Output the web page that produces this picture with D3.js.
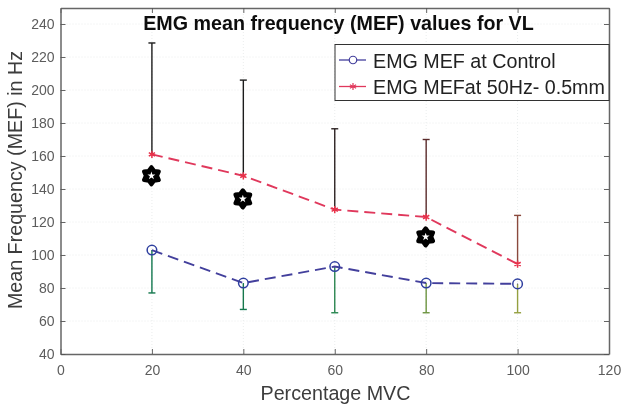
<!DOCTYPE html>
<html>
<head>
<meta charset="utf-8">
<script src="https://cdn.jsdelivr.net/npm/d3@7"></script>
<style>
html, body { margin: 0; padding: 0; background: #fff; }
svg { display: block; font-family: "Liberation Sans", Arial, sans-serif; }
</style>
</head>
<body>
<div id="graphs"></div>
<script>
const mvc = [20, 40, 60, 80, 100];
const controlMef = [103, 83, 93, 83, 82.5];
const controlLow = [77, 67, 65, 65, 65];
const stimMef = [161, 148, 127.5, 123, 94.5];
const stimHigh = [228.5, 206, 176.5, 170, 124];
const stimBarColors = ['#1c1c1c', '#1c1c1c', '#2e2222', '#5a2a2a', '#8a4a3c'];
const controlBarColors = ['#14784e', '#14784e', '#2a8650', '#6c9440', '#94a040'];
const sigMvc = [20, 40, 80];
const sigMef = [148, 134, 111];
const xTicks = [0, 20, 40, 60, 80, 100, 120];
const yTicks = [40, 60, 80, 100, 120, 140, 160, 180, 200, 220, 240];

const width = 625;
const height = 406;
const margin = {top: 8, bottom: 52, left: 60.5, right: 16};

const svg = d3.select('#graphs')
.append('svg')
.attr('width', width)
.attr('height', height);

// source is a slightly soft scan
const blur = svg.append('defs').append('filter').attr('id', 'soft');
blur.append('feGaussianBlur').attr('stdDeviation', 0.4);

const root = svg.append('g').attr('filter', 'url(#soft)');

const x = d3.scaleLinear()
.domain([0, 120])
.range([margin.left, width - margin.right]);

const y = d3.scaleLinear()
.domain([40, 249.7])
.range([height - margin.bottom, margin.top]);

// grid
root.append('g')
.selectAll('line')
.data(xTicks.slice(1, -1))
.join('line')
.attr('x1', d => x(d)).attr('x2', d => x(d))
.attr('y1', y.range()[0]).attr('y2', y.range()[1])
.attr('stroke', '#e4e8e8').attr('stroke-width', 0.8).attr('stroke-dasharray', '1 2');

root.append('g')
.selectAll('line')
.data(yTicks.slice(1))
.join('line')
.attr('x1', x.range()[0]).attr('x2', x.range()[1])
.attr('y1', d => y(d)).attr('y2', d => y(d))
.attr('stroke', '#e4e8e8').attr('stroke-width', 0.8).attr('stroke-dasharray', '1 2');

// axes, mirrored on the far sides like matlab box on
function styleAxis(g, labels){
    g.select('.domain').attr('stroke', '#666').attr('stroke-width', 1.5);
    g.selectAll('.tick line').attr('stroke', '#555').attr('stroke-width', 0.9);
    g.selectAll('.tick text').attr('fill', '#5c5c5c').attr('font-size', '14px');
    if(!labels) g.selectAll('.tick text').remove();
}

root.append('g')
.attr('transform', `translate(0, ${y(40)})`)
.call(d3.axisBottom(x).tickValues(xTicks).tickSize(-5).tickPadding(11).tickSizeOuter(0))
.attr('font-family', null)
.call(g => styleAxis(g, true));

root.append('g')
.attr('transform', `translate(0, ${y.range()[1]})`)
.call(d3.axisTop(x).tickValues(xTicks).tickSize(-5).tickSizeOuter(0))
.call(g => styleAxis(g, false));

root.append('g')
.attr('transform', `translate(${x(0)}, 0)`)
.call(d3.axisLeft(y).tickValues(yTicks).tickSize(-5).tickPadding(6).tickSizeOuter(0))
.attr('font-family', null)
.call(g => styleAxis(g, true));

root.append('g')
.attr('transform', `translate(${x(120)}, 0)`)
.call(d3.axisRight(y).tickValues(yTicks).tickSize(-5).tickSizeOuter(0))
.call(g => styleAxis(g, false));

// error bars, the cap goes on the far end (tips)
function errorBars(starts, tips, colors){
    const g = root.append('g').selectAll('g').data(mvc).join('g').attr('stroke-width', 1.4);
    g.append('line')
    .attr('x1', d => x(d)).attr('x2', d => x(d))
    .attr('y1', (d, i) => y(starts[i])).attr('y2', (d, i) => y(tips[i]))
    .attr('stroke', (d, i) => colors[i]);
    g.append('line')
    .attr('x1', d => x(d) - 3.5).attr('x2', d => x(d) + 3.5)
    .attr('y1', (d, i) => y(tips[i])).attr('y2', (d, i) => y(tips[i]))
    .attr('stroke', (d, i) => colors[i]);
}
errorBars(stimMef, stimHigh, stimBarColors);
errorBars(controlMef, controlLow, controlBarColors);

// series lines
const line = d3.line().x((d, i) => x(mvc[i])).y(d => y(d));

root.append('path').datum(controlMef).attr('d', line)
.attr('fill', 'none').attr('stroke', '#433f9c').attr('stroke-width', 1.9).attr('stroke-dasharray', '11 6');

root.append('path').datum(stimMef).attr('d', line)
.attr('fill', 'none').attr('stroke', '#e0395c').attr('stroke-width', 1.9).attr('stroke-dasharray', '11 6');

const circleMark = d3.symbol().type(d3.symbolCircle).size(72);
const starMark = d3.symbol().type(d3.symbolAsterisk).size(36);

root.append('g').selectAll('path').data(controlMef).join('path')
.attr('transform', (d, i) => `translate(${x(mvc[i])},${y(d)})`)
.attr('d', circleMark)
.attr('fill', 'none').attr('stroke', '#2f3f9f').attr('stroke-width', 1.5);

root.append('g').selectAll('path').data(stimMef).join('path')
.attr('transform', (d, i) => `translate(${x(mvc[i])},${y(d)})`)
.attr('d', starMark)
.attr('fill', 'none').attr('stroke', '#e8304a').attr('stroke-width', 1.5);

// significance stars, blobby six lobes with a small white middle
const hexagram = d3.range(12).map(i => [i * Math.PI / 6, i % 2 ? 5.6 : 8.6]);
const hexPath = d3.lineRadial().curve(d3.curveLinearClosed)(hexagram);

const sig = root.append('g').selectAll('g').data(sigMef).join('g')
.attr('transform', (d, i) => `translate(${x(sigMvc[i]) - 0.5},${y(d)})`);

sig.append('path').attr('d', hexPath)
.attr('fill', '#000').attr('stroke', '#000').attr('stroke-width', 4).attr('stroke-linejoin', 'round');

sig.append('path').attr('d', d3.symbol().type(d3.symbolStar).size(20))
.attr('fill', '#fff');

// legend
const legend = root.append('g').attr('transform', 'translate(335, 44.5)');

legend.append('rect')
.attr('width', 274).attr('height', 56)
.attr('fill', '#fff').attr('stroke', '#333').attr('stroke-width', 1);

const legendNames = ['EMG MEF at Control', 'EMG MEFat 50Hz- 0.5mm'];
const legendColors = ['#433f9c', '#e0395c'];

const row = legend.selectAll('.row').data(legendNames).join('g')
.attr('class', 'row')
.attr('transform', (d, i) => `translate(0, ${i ? 42 : 15.5})`);

row.append('line')
.attr('x1', 4).attr('x2', 31)
.attr('stroke', (d, i) => legendColors[i]).attr('stroke-width', 1.3);

row.append('path')
.attr('transform', 'translate(18, 0)')
.attr('d', (d, i) => i ? starMark() : d3.symbol().type(d3.symbolCircle).size(44)())
.attr('fill', (d, i) => i ? 'none' : '#fff')
.attr('stroke', (d, i) => legendColors[i]).attr('stroke-width', 1.2);

row.append('text')
.attr('x', 38).attr('y', 7.5)
.attr('font-size', '19.7px').attr('fill', '#222')
.text(d => d);

// titles
root.append('text')
.attr('x', 338.5).attr('y', 30)
.attr('text-anchor', 'middle')
.attr('font-size', '19.7px').attr('font-weight', 'bold').attr('fill', '#111')
.text('EMG mean frequency (MEF) values for VL');

root.append('text')
.attr('x', 335.5).attr('y', 400)
.attr('text-anchor', 'middle')
.attr('font-size', '19.7px').attr('fill', '#3c3c3c')
.text('Percentage MVC');

root.append('text')
.attr('transform', 'translate(22, 180) rotate(-90)')
.attr('text-anchor', 'middle')
.attr('font-size', '19.7px').attr('fill', '#3c3c3c')
.text('Mean Frequency (MEF) in Hz');
</script>
</body>
</html>
